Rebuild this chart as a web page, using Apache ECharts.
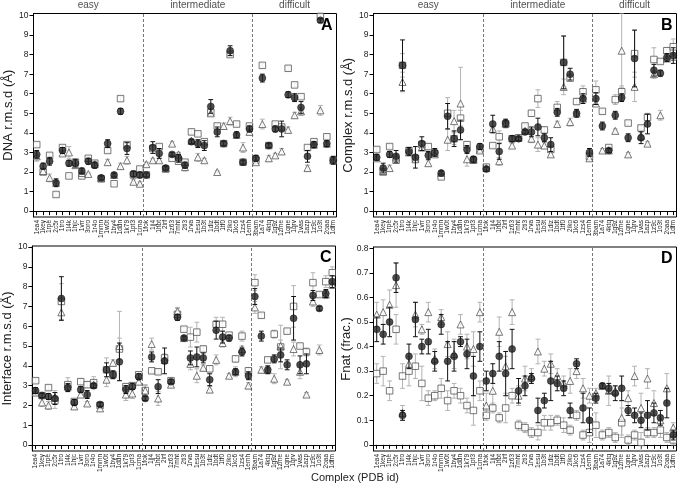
<!DOCTYPE html>
<html><head><meta charset="utf-8">
<script src="https://cdn.jsdelivr.net/npm/echarts@6/dist/echarts.min.js"></script>
<style>html,body{margin:0;padding:0;background:#fff}#c{width:680px;height:485px}</style>
</head><body><div id="c"></div>
<script>
const complexes = ['1ea4','1key','1rpe','2c5r','1tro','1l4k','1hjc','1vrr','3oro','1r4o','1mmn','1w0t','1by4','1ddn','1k79','1pt3','1cma',
 '1fok','1jj4','1hbt','2irf','1z63','7mht','2ti3','1rva','1esu','1b3t','1diz','1bdt','1tf0','2iko','1kc6','1zs4','1emh',
 '3bam','1a74','4ktq','1g9z','1zme','1qne','1qrv','1vas','1azp','1z9c','1o3t','2oaa','1dfm'];
const groupNames = ['easy','intermediate','difficult'];
const groupSizes = [17,17,13];

// Panel A: DNA r.m.s.d
const dnaMean = [2.9,2.3,2.55,1.45,3.1,2.45,2.45,2.05,2.55,2.35,1.7,3.45,1.85,5.1,3.2,1.9,1.85, 1.85,3.25,2.95,2.2,2.9,2.7,2.35,3.55,3.45,3.35,5.35,4.05,3.45,8.2,3.9,2.5,4.2, 2.7,6.8,3.35,4.2,4.2,5.95,5.8,5.3,2.8,3.4,9.75,3.45,2.6];
const dnaMeanErr = [0.2,0.15,0.2,0.2,0.15,0.15,0.2,0.15,0.15,0.15,0.1,0.2,0.1,0.15,0.3,0.15,0.15, 0.1,0.3,0.25,0.1,0.1,0.2,0.15,0.1,0.2,0.25,0.35,0.25,0.1,0.25,0.15,0.1,0.15, 0.15,0.2,0.1,0.15,0.4,0.15,0.2,0.3,0.3,0.15,0.1,0.15,0.2];
const dnaSq = [3.4,2.0,2.85,0.85,3.25,1.8,2.5,1.8,2.7,2.45,1.65,3.1,1.4,5.75,3.4,1.85,2.15, 1.85,3.2,3.3,2.15,2.7,2.55,2.5,4.05,3.95,3.55,5.05,4.35,3.45,8.0,4.45,2.5,4.35, 2.6,7.45,3.35,4.45,4.3,7.3,6.45,5.85,3.25,3.55,9.95,3.8,2.6];
const dnaSqErr = [0.1,0.1,0.1,0.1,0.1,0.05,0.1,0.1,0.1,0.1,0.05,0.1,0.05,0.1,0.1,0.1,0.05, 0.05,0.1,0.1,0.1,0.1,0.1,0.1,0.1,0.1,0.1,0.1,0.1,0.1,0.1,0.1,0.05,0.1, 0.1,0.1,0.1,0.1,0.1,0.1,0.1,0.1,0.1,0.1,0.1,0.1,0.1];
const dnaTri = [2.8,2.05,1.7,1.45,2.95,3.0,2.35,1.95,1.9,2.4,1.7,2.5,1.85,2.3,2.6,1.5,1.4, 2.4,2.6,2.6,2.2,3.45,2.9,2.25,3.6,2.75,2.6,5.0,2.0,4.35,4.6,3.9,3.25,4.05, 2.5,4.45,2.7,2.85,3.05,4.15,4.9,5.1,2.2,3.4,5.15,3.45,2.6];
const dnaTriErr = [0.25,0.1,0.2,0.1,0.1,0.3,0.15,0.1,0.05,0.1,0.05,0.15,0.1,0.15,0.2,0.1,0.1, 0.1,0.1,0.1,0.1,0.1,0.1,0.2,0.1,0.2,0.1,0.1,0.05,0.15,0.2,0.1,0.25,0.15, 0.1,0.25,0.15,0.1,0.15,0.15,0.15,0.2,0.15,0.2,0.25,0.2,0.2];

// Panel B: Complex r.m.s.d
const cxMean = [2.75,2.2,2.9,2.8,7.45,3.05,2.75,3.45,2.85,3.0,1.95,4.85,3.7,4.15,3.15,2.65,3.3, 2.15,4.45,3.05,4.5,3.7,3.7,4.05,4.05,4.3,3.75,3.4,5.05,7.6,7.0,5.0,5.75,3.0, 5.75,4.35,3.1,4.9,5.8,3.75,7.8,3.75,4.45,7.2,7.05,7.85,7.95];
const cxMeanErr = [0.15,0.25,0.15,0.3,1.3,0.2,0.55,0.35,0.2,0.2,0.1,0.65,0.4,0.5,0.2,0.15,0.15, 0.1,0.45,0.4,0.2,0.15,0.1,0.1,0.25,0.45,0.2,0.35,0.2,1.35,0.3,0.2,0.25,0.2, 0.3,0.2,0.1,0.2,0.2,0.2,1.45,0.3,0.5,0.3,0.15,0.2,0.4];
const cxSq = [3.15,2.0,3.3,2.6,7.45,3.1,2.7,3.4,3.3,2.95,1.75,5.0,3.7,4.75,3.4,2.6,3.15, 2.25,3.35,3.8,4.45,3.7,3.75,4.35,5.0,5.75,4.15,3.15,5.3,7.6,6.8,5.6,6.1,2.8, 6.2,5.1,3.25,5.7,6.1,4.5,8.05,4.25,4.8,7.75,7.65,8.2,8.4];
const cxSqErr = [0.1,0.1,0.1,0.15,0.6,0.15,0.1,0.15,0.15,0.15,0.1,0.8,0.3,0.4,0.15,0.1,0.1, 0.1,0.1,0.3,0.2,0.1,0.1,0.1,0.15,0.45,0.15,0.15,0.3,1.35,0.15,0.15,0.3,0.1, 0.45,0.1,0.1,0.25,0.3,0.1,1.2,0.1,0.2,0.6,0.1,0.15,0.4];
const cxTri = [2.7,2.05,2.2,2.75,6.6,3.0,2.65,3.25,2.45,2.9,1.95,3.65,4.6,5.5,2.65,2.65,3.1, 2.2,4.2,2.55,4.5,3.35,3.75,4.1,3.7,3.4,3.35,2.9,4.45,6.35,4.55,5.0,5.75,2.7, 5.5,3.1,3.1,4.1,8.2,2.9,6.35,3.85,3.45,7.0,4.9,7.8,7.9];
const cxTriErr = [0.1,0.1,0.15,0.1,0.5,0.1,0.15,0.1,0.15,0.1,0.1,0.55,0.55,1.85,0.35,0.1,0.1, 0.1,0.15,0.2,0.1,0.1,0.1,0.1,0.2,0.35,0.15,0.1,0.15,0.4,0.2,0.1,0.1,0.1, 0.1,0.1,0.1,0.1,1.9,0.1,0.75,0.25,0.1,0.2,0.25,0.1,0.2];

// Panel C: Interface r.m.s.d
const ifMean = [2.75,2.5,2.45,2.35,7.4,2.9,2.15,2.8,2.55,3.0,2.05,3.8,3.55,4.2,2.8,2.95,3.45, 2.35,4.45,2.95,4.25,3.2,6.45,5.4,4.4,4.45,4.4,3.3,5.8,5.45,5.4,3.7,4.7,3.5, 7.5,5.5,3.8,4.35,4.55,4.05,6.4,4.05,4.1,7.55,6.9,7.65,8.25];
const ifMeanErr = [0.15,0.1,0.15,0.3,1.1,0.2,0.15,0.15,0.2,0.1,0.1,0.35,0.2,0.95,0.2,0.15,0.15, 0.1,0.25,0.35,0.65,0.1,0.15,0.1,0.35,0.5,0.25,0.3,0.45,0.3,0.15,0.15,0.2,0.2, 0.4,0.25,0.2,0.2,0.35,0.25,1.1,0.45,0.5,0.25,0.1,0.2,0.3];
const ifSq = [3.25,2.5,2.9,2.25,7.25,3.05,2.2,3.2,3.05,3.15,2.0,3.8,3.55,4.85,2.95,3.0,3.55, 2.75,3.75,3.7,4.4,3.25,6.6,5.85,5.45,5.7,4.85,3.85,6.1,6.1,5.55,4.35,5.5,3.75, 8.2,6.55,4.3,5.6,4.95,5.75,7.0,5.0,4.7,8.2,7.6,8.25,8.7];
const ifSqErr = [0.1,0.1,0.1,0.4,0.9,0.35,0.1,0.15,0.15,0.3,0.1,0.6,0.1,0.55,0.15,0.15,0.1, 0.3,0.1,0.1,0.2,0.1,0.3,0.1,0.5,0.5,0.15,0.15,0.35,0.35,0.1,0.15,0.25,0.15, 0.4,0.1,0.1,0.2,1.1,0.1,1.05,0.1,0.2,0.5,0.1,0.3,0.3];
const ifTri = [2.65,2.15,2.0,2.4,6.7,2.95,1.95,2.55,2.1,3.05,1.85,3.3,4.15,5.0,2.55,2.6,3.2, 2.75,5.1,2.35,4.3,3.05,6.75,5.4,4.1,3.5,3.9,2.8,4.3,5.15,3.5,3.7,4.85,3.0, 6.95,3.8,3.8,3.35,5.0,3.2,4.85,3.7,2.55,7.25,4.8,7.6,8.1];
const ifTriErr = [0.15,0.2,0.2,0.35,0.4,0.2,0.15,0.15,0.1,0.2,0.15,0.35,0.15,1.75,0.3,0.25,0.15, 0.25,0.3,0.35,0.2,0.1,0.2,0.1,0.3,0.35,0.15,0.15,0.25,0.2,0.1,0.25,0.15,0.15, 0.3,0.15,0.15,0.25,0.3,0.1,0.35,0.35,0.1,0.25,0.25,0.2,0.2];

// Panel D: Fnat
const fnMean = [0.47,0.45,0.50,0.68,0.12,0.36,0.51,0.40,0.42,0.34,0.49,0.34,0.36,0.42,0.37,0.28,0.40, 0.26,0.29,0.36,0.29,0.39,0.22,0.24,0.27,0.14,0.18,0.26,0.25,0.23,0.14,0.33,0.15,0.10, 0.19,0.24,0.23,0.21,0.23,0.14,0.12,0.10,0.12,0.13,0.11,0.17,0.04];
const fnMeanErr = [0.05,0.04,0.06,0.06,0.02,0.05,0.07,0.03,0.05,0.04,0.04,0.08,0.06,0.02,0.06,0.08,0.06, 0.04,0.04,0.06,0.09,0.08,0.05,0.04,0.02,0.05,0.03,0.08,0.03,0.03,0.03,0.02,0.06,0.05, 0.02,0.01,0.02,0.03,0.05,0.02,0.03,0.03,0.06,0.04,0.03,0.06,0.02];
const fnSq = [0.29,0.30,0.22,0.47,0.28,0.30,0.32,0.25,0.19,0.20,0.23,0.18,0.22,0.20,0.16,0.14,0.22, 0.12,0.15,0.11,0.15,0.20,0.08,0.07,0.05,0.05,0.09,0.09,0.10,0.08,0.06,0.12,0.04,0.05, 0.08,0.04,0.05,0.03,0.09,0.02,0.04,0.01,0.05,0.05,0.06,0.03,0.02];
const fnSqErr = [0.04,0.06,0.04,0.06,0.05,0.06,0.05,0.07,0.03,0.02,0.04,0.04,0.03,0.03,0.03,0.06,0.04, 0.02,0.02,0.02,0.06,0.03,0.02,0.02,0.02,0.03,0.03,0.03,0.02,0.03,0.02,0.02,0.02,0.04, 0.05,0.02,0.02,0.02,0.06,0.02,0.02,0.04,0.02,0.02,0.03,0.02,0.02];
const fnTri = [0.53,0.54,0.57,0.65,0.13,0.33,0.53,0.47,0.54,0.35,0.52,0.41,0.37,0.49,0.40,0.39,0.54, 0.16,0.22,0.46,0.32,0.54,0.20,0.27,0.28,0.38,0.31,0.33,0.28,0.25,0.26,0.30,0.23,0.20, 0.21,0.24,0.22,0.22,0.11,0.19,0.28,0.15,0.27,0.17,0.10,0.23,0.07];
const fnTriErr = [0.05,0.05,0.06,0.09,0.03,0.03,0.05,0.02,0.04,0.04,0.03,0.05,0.06,0.04,0.05,0.07,0.04, 0.05,0.06,0.06,0.04,0.05,0.04,0.05,0.03,0.05,0.03,0.04,0.03,0.03,0.05,0.03,0.04,0.03, 0.02,0.01,0.06,0.02,0.07,0.03,0.04,0.06,0.04,0.05,0.02,0.06,0.02];

const FONT = 'Liberation Sans, Arial, Helvetica, sans-serif';
const panels = [
  {mean:dnaMean, meanErr:dnaMeanErr, sq:dnaSq, sqErr:dnaSqErr, tri:dnaTri, triErr:dnaTriErr, yName:'DNA r.m.s.d (Å)', letter:'A',
   left:33.5, top:13.5, width:303, height:203.5, min:-0.3, max:10.1, split:10, gap:19, groups:true},
  {mean:cxMean, meanErr:cxMeanErr, sq:cxSq, sqErr:cxSqErr, tri:cxTri, triErr:cxTriErr, yName:'Complex r.m.s.d (Å)', letter:'B',
   left:373.5, top:13.5, width:303, height:203.5, min:-0.3, max:10.1, split:10, gap:18, groups:true},
  {mean:ifMean, meanErr:ifMeanErr, sq:ifSq, sqErr:ifSqErr, tri:ifTri, triErr:ifTriErr, yName:'Interface r.m.s.d (Å)', letter:'C',
   left:25.5, top:246, width:310, height:205, min:-0.3, max:10.05, split:10, gap:12, groups:false},
  {mean:fnMean, meanErr:fnMeanErr, sq:fnSq, sqErr:fnSqErr, tri:fnTri, triErr:fnTriErr, yName:'Fnat (frac.)', letter:'D',
   left:373.5, top:247, width:303, height:204, min:-0.025, max:0.805, split:8, gap:20, groups:false}
];

function errSeries(vals, errs, color, xi, yi, z) {
  return {
    type:'custom', xAxisIndex:xi, yAxisIndex:yi, z:z, silent:true, clip:true,
    data: vals.map((v,i)=>[i, v-errs[i], v+errs[i]]),
    encode:{x:0, y:[1,2]},
    renderItem:(params, api)=>{
      const x = api.value(0);
      const a = api.coord([x, api.value(1)]);
      const b = api.coord([x, api.value(2)]);
      const w = 2.4;
      const st = {stroke:color, lineWidth:1};
      return {type:'group', children:[
        {type:'line', shape:{x1:a[0],y1:a[1],x2:b[0],y2:b[1]}, style:st},
        {type:'line', shape:{x1:a[0]-w,y1:a[1],x2:a[0]+w,y2:a[1]}, style:st},
        {type:'line', shape:{x1:b[0]-w,y1:b[1],x2:b[0]+w,y2:b[1]}, style:st}
      ]};
    }
  };
}

const grids=[], xAxes=[], yAxes=[], series=[], graphics=[];
const nCat = complexes.length;
const bounds = []; let acc = 0;
groupSizes.forEach((s,i)=>{ if(i<groupSizes.length-1){ acc+=s; bounds.push(acc);} });
const centers = []; acc = 0;
groupSizes.forEach(s=>{ centers.push(acc + s/2); acc+=s; });

panels.forEach((p,k)=>{
  grids.push({left:p.left, top:p.top, width:p.width, height:p.height, show:true, borderColor:'#000', borderWidth:1, backgroundColor:'transparent'});
  const xi = 2*k, xv = 2*k+1;
  xAxes.push({type:'category', gridIndex:k, data:complexes, boundaryGap:true,
    axisLine:{show:true, lineStyle:{color:'#000', width:1}},
    axisTick:{show:true, alignWithLabel:true, length:4, inside:false, interval:0, lineStyle:{color:'#000'}},
    axisLabel:{show:true, interval:0, rotate:90, fontSize:6.5, margin:3, color:'#222', fontFamily:FONT},
    splitLine:{show:false}});
  xAxes.push({type:'value', gridIndex:k, min:0, max:nCat, show:false});
  yAxes.push({type:'value', gridIndex:k, min:p.min, max:p.max, splitNumber:p.split,
    name:p.yName, nameLocation:'middle', nameGap:p.gap, nameTextStyle:{fontSize:13, color:'#222', fontFamily:FONT},
    axisLine:{show:true, lineStyle:{color:'#000'}},
    axisTick:{show:true, length:4, inside:false, lineStyle:{color:'#000'}},
    axisLabel:{fontSize:8.5, color:'#222', margin:5, fontFamily:FONT, showMinLabel:false, showMaxLabel:false,
      formatter:(v)=>{ const step = p.split===8?0.1:1; const r=v/step; return Math.abs(r-Math.round(r))<1e-6 ? String(+(Math.round(r)*step).toFixed(2)) : ''; }},
    splitLine:{show:false}});

  series.push({type:'scatter', xAxisIndex:xv, yAxisIndex:k, symbolSize:0, silent:true, clip:false, z:1,
    data: p.groups ? centers.map((c,i)=>({value:[c, p.max], name:groupNames[i]})) : [],
    label:{show:true, position:'top', distance:3, formatter:'{b}', fontSize:10, color:'#222', fontFamily:FONT},
    markLine:{silent:true, symbol:['none','none'], label:{show:false},
      lineStyle:{color:'#555', type:[3,2], width:0.8},
      data: bounds.map(b=>({xAxis:b}))}
  });
  series.push(errSeries(p.sq, p.sqErr, '#b3b3b3', xi, k, 2));
  series.push(errSeries(p.tri, p.triErr, '#b3b3b3', xi, k, 2));
  series.push({type:'scatter', xAxisIndex:xi, yAxisIndex:k, data:p.sq, symbol:'rect', symbolSize:6.5, z:3, silent:true,
    itemStyle:{color:'#fff', borderColor:'#444', borderWidth:0.9}});
  series.push({type:'scatter', xAxisIndex:xi, yAxisIndex:k, data:p.tri, symbol:'triangle', symbolSize:7, z:3, silent:true,
    itemStyle:{color:'#fff', borderColor:'#444', borderWidth:0.9}});
  series.push(errSeries(p.mean, p.meanErr, '#111', xi, k, 4));
  series.push({type:'scatter', xAxisIndex:xi, yAxisIndex:k, data:p.mean, symbol:'circle', symbolSize:7, z:5, silent:true,
    itemStyle:{color:'#222', borderColor:'#000', borderWidth:0.5}});

  graphics.push({type:'text', right: 680 - (p.left + p.width) + 4, top: p.top + 4,
    style:{text:p.letter, font:'bold 16px '+FONT, fill:'#000'}});
});

graphics.push({type:'text', left:311, top:472, style:{text:'Complex (PDB id)', font:'11px '+FONT, fill:'#222'}});

const chart = echarts.init(document.getElementById('c'));
chart.setOption({
  animation:false,
  backgroundColor:'#fff',
  grid:grids, xAxis:xAxes, yAxis:yAxes, series:series, graphic:graphics
});
</script>
</body></html>
